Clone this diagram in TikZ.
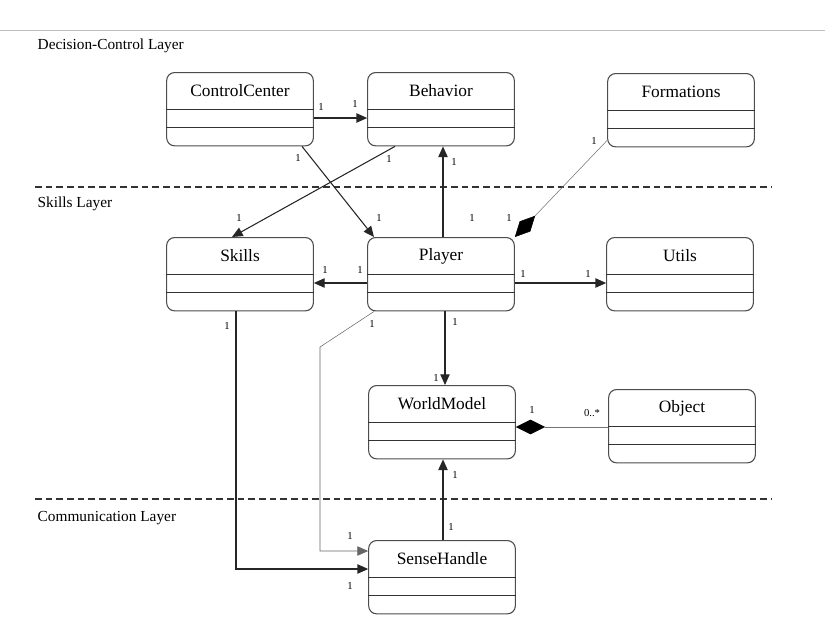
\documentclass[tikz,border=0pt]{standalone}
\usepackage{fontspec}
\setmainfont{Liberation Serif}
\usetikzlibrary{calc}
\usetikzlibrary{arrows.meta}
\tikzset{%
  umlclass/.style = {draw=black!70, thick, rectangle, rounded corners=6pt, anchor=north,
    minimum width=110pt, minimum height=55pt, inner sep=0pt},
  classname/.style = {font=\fontsize{13}{15}\selectfont},
  layertext/.style = {anchor=west, font=\fontsize{11.5}{13}\selectfont},
  layerline/.style = {thick, dashed, black!80, dash pattern=on 5pt off 3pt},
  assoc/.style    = {thick, black!85, -{Triangle[length=8pt, width=7pt]}},
  compo/.style    = {black!55, -{Diamond[length=22pt, width=11pt, fill=black, black]}},
  mult/.style     = {font=\fontsize{8}{9}\selectfont, inner sep=0pt}
}
% class box with two compartments
\newcommand{\umlbox}[4]{%
  \node[umlclass] (#1) at (#2,#3) {};
  \node[classname] at ($(#1.north)+(0,19)$) {#4};
  \draw[black!80] ($(#1.north west)+(0,37)$) -- ($(#1.north east)+(0,37)$);
  \draw[black!80] ($(#1.north west)+(0,55)$) -- ($(#1.north east)+(0,55)$);
}

\begin{document}
\begin{tikzpicture}[x=0.75pt, y=-0.75pt]
    \useasboundingbox (0,0) rectangle (825,640);
    \draw[black!25] (0,30) -- (825,30);

    %layers
    \node[layertext] (declayer) at (33,46) {Decision-Control Layer};
    \draw[layerline] (35,187) -- (772,187);
    \node[layertext] (skilllayer) at (33,204) {Skills Layer};
    \draw[layerline] (35,499) -- (772,499);
    \node[layertext] (commlayer) at (33,518) {Communication Layer};

    %classes
    \umlbox{control}{240}{72}{ControlCenter}
    \umlbox{behavior}{441}{72}{Behavior}
    \umlbox{formations}{681}{73}{Formations}
    \umlbox{skills}{240}{237}{Skills}
    \umlbox{player}{441}{237}{Player}
    \umlbox{utils}{680}{237}{Utils}
    \umlbox{world}{442}{385}{WorldModel}
    \umlbox{object}{682}{389}{Object}
    \umlbox{sense}{442}{540}{SenseHandle}

    %connectors
    \draw[assoc] (control.east |- 0,118) -- (behavior.west |- 0,118);
    \draw[assoc] (control.south -| 302,0) -- (player.north -| 374,0);
    \draw[assoc] (behavior.south -| 395,0) -- (skills.north -| 232,0);
    \draw[assoc] (player.north -| 443,0) -- (behavior.south -| 443,0);
    \draw[compo] (formations.south west) ++(0,-7) coordinate (fstart) -- (player.north east);
    \draw[assoc] (player.west |- 0,283) -- (skills.east |- 0,283);
    \draw[assoc] (player.east |- 0,283) -- (utils.west |- 0,283);
    \draw[assoc] (player.south -| 445,0) -- (world.north -| 445,0);
    \draw[compo] (object.west |- 0,427) -- (world.east |- 0,427);
    \draw[assoc] (sense.north -| 443,0) -- (world.south -| 443,0);
    \draw[assoc] (skills.south -| 236,0) -- (236,569) -- (sense.west |- 0,569);
    \draw[assoc, black!60, thin] (player.south west) ++(7,0) -- (320,347) -- (320,551) -- (sense.west |- 0,551);

    %multiplicities
    \node[mult] (m1) at (321,107) {1};
    \node[mult] (m2) at (355,104) {1};
    \node[mult] (m3) at (298,158) {1};
    \node[mult] (m4) at (379,218) {1};
    \node[mult] (m5) at (389,159) {1};
    \node[mult] (m6) at (239,218) {1};
    \node[mult] (m7) at (454,162) {1};
    \node[mult] (m8) at (472,218) {1};
    \node[mult] (m9) at (509,218) {1};
    \node[mult] (m10) at (594,141) {1};
    \node[mult] (m11) at (325,270) {1};
    \node[mult] (m12) at (360,270) {1};
    \node[mult] (m13) at (523,274) {1};
    \node[mult] (m14) at (588,274) {1};
    \node[mult] (m15) at (227,326) {1};
    \node[mult] (m16) at (372,324) {1};
    \node[mult] (m17) at (455,322) {1};
    \node[mult] (m18) at (436,378) {1};
    \node[mult] (m19) at (532,410) {1};
    \node[mult] (m20) at (592,413) {0..*};
    \node[mult] (m21) at (455,475) {1};
    \node[mult] (m22) at (451,527) {1};
    \node[mult] (m23) at (350,536) {1};
    \node[mult] (m24) at (350,586) {1};
\end{tikzpicture}
\end{document}
